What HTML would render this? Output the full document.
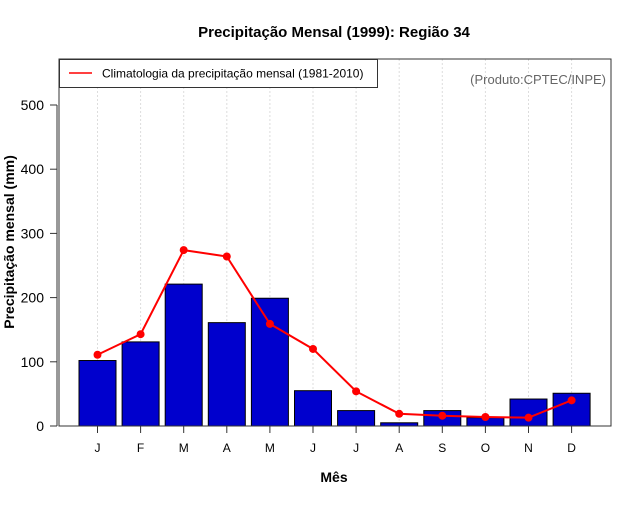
<!DOCTYPE html>
<html><head><meta charset="utf-8"><style>
html,body{margin:0;padding:0;background:#fff}
text{font-family:"Liberation Sans",sans-serif}
</style></head><body>
<svg id="c" width="640" height="500" xmlns="http://www.w3.org/2000/svg">
<text x="334" y="37" font-size="15" font-weight="bold" text-anchor="middle">Precipitação Mensal (1999): Região 34</text>
<text x="334" y="482" font-size="14" font-weight="bold" text-anchor="middle">Mês</text>
<text transform="translate(14,242) rotate(-90)" font-size="14" font-weight="bold" text-anchor="middle">Precipitação mensal (mm)</text>
<g id="grid"></g><g id="bars"></g><g id="line"></g><g id="axes"></g>
<rect x="59" y="59" width="552" height="367" fill="none" stroke="#333" stroke-width="1"/>
<g>
<rect x="59.5" y="59.5" width="318" height="28" fill="#fff" stroke="#333"/>
<line x1="69" y1="73" x2="92" y2="73" stroke="#f00" stroke-width="1.5"/>
<text x="102" y="77.5" font-size="12">Climatologia da precipitação mensal (1981-2010)</text>
</g>
<text x="606" y="84" font-size="13" fill="#666" text-anchor="end">(Produto:CPTEC/INPE)</text>
</svg>
<script>
const months=["J","F","M","A","M","J","J","A","S","O","N","D"];
const observed=[102,131,221,161,199,55,24,5,24,13,42,51];
const climatology=[111,143,274,264,159,120,54,19,16,14,13,40];
const yTicks=[0,100,200,300,400,500];
const NS="http://www.w3.org/2000/svg";
function X(i){return 97.5+i*43.1;}
function Y(v){return 426-v*0.642;}
function mk(tag,attrs,parent){const e=document.createElementNS(NS,tag);for(const k in attrs)e.setAttribute(k,attrs[k]);document.getElementById(parent).appendChild(e);return e;}
months.forEach((m,i)=>{
 const g=mk('line',{x1:X(i),x2:X(i),y1:59,y2:426,stroke:'#ddd','stroke-dasharray':'2,2'},'grid');
 
 
 const b=mk('rect',{x:X(i)-18.5,y:Y(observed[i]),width:37,height:426-Y(observed[i]),fill:'#0000cd',stroke:'#000','stroke-width':1},'bars');
 
 
 const t=mk('line',{x1:X(i),x2:X(i),y1:426,y2:433,stroke:'#333'},'axes');
 
 
 const l=mk('text',{x:X(i),y:452,'font-size':12,'text-anchor':'middle'},'axes');l.textContent=m;
 
 
});
const pl=mk('polyline',{points:climatology.map((v,i)=>X(i)+','+Y(v)).join(' '),fill:'none',stroke:'#f00','stroke-width':2},'line');


climatology.forEach((v,i)=>{
 const c=mk('circle',{cx:X(i),cy:Y(v),r:4,fill:'#f00'},'line');
 
 
});
const ax=mk('line',{x1:57,x2:57,y1:Y(0),y2:Y(500),stroke:'#333'},'axes');


yTicks.forEach(v=>{
 const t=mk('line',{x1:50,x2:57,y1:Y(v),y2:Y(v),stroke:'#333'},'axes');
 
 
 const l=mk('text',{x:44,y:Y(v)+5,'font-size':14,'text-anchor':'end'},'axes');l.textContent=v;
 
 
});
</script>
</body></html>
